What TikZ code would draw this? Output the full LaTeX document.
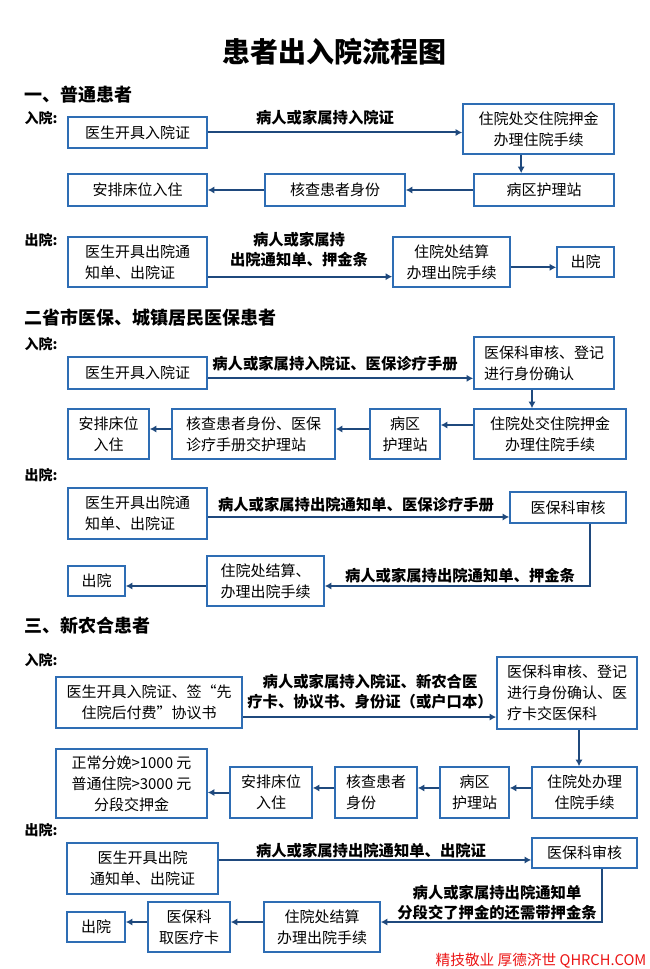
\documentclass[tikz,border=0pt]{standalone}
\usepackage{fontspec}
\setmainfont{Noto Sans CJK SC}
\usetikzlibrary{arrows.meta}
\definecolor{boxblue}{RGB}{46,109,180}
\definecolor{arrblue}{RGB}{31,73,125}
\definecolor{markred}{RGB}{235,20,20}
\tikzset{
  box/.style={draw=boxblue, line width=1.2pt, inner sep=0pt, align=center, font=\fontsize{11.25}{15.75}\selectfont},
  lbox/.style={box, align=left},
  sz/.style 2 args={minimum width=#1*0.75pt, minimum height=#2*0.75pt},
  arr/.style={->, draw=arrblue, line width=1.5pt},
  tag/.style={font=\bfseries\fontsize{11.5}{15}\selectfont, align=center},
  head/.style={anchor=west, font=\bfseries\fontsize{13.5}{16}\selectfont},
  side/.style={anchor=west, font=\bfseries\fontsize{10.5}{13}\selectfont},
}
\begin{document}
\begin{tikzpicture}[x=0.75pt, y=-0.75pt, >={Latex[length=5pt,width=5.5pt]}]
  \useasboundingbox (0,0) rectangle (649,969);
  \node[font=\bfseries\fontsize{21}{24}\selectfont] (title) at (334,52) {患者出入院流程图};

  % 一、普通患者
  \node[head] (h1) at (20,95) {一、普通患者};
  \node[side] (in1) at (20,118) {入院:};
  \node[box, sz={139}{31}] (a1) at (137.5,132.5) {医生开具入院证};
  \node[box, sz={151}{50}] (a2) at (538.5,129) {住院处交住院押金\\办理住院手续};
  \node[box, sz={140}{32}] (a3) at (544,190) {病区护理站};
  \node[box, sz={140}{32}] (a4) at (335,190) {核查患者身份};
  \node[box, sz={139}{32}] (a5) at (137.5,190) {安排床位入住};
  \node[tag] (ta) at (325,118) {病人或家属持入院证};
  \draw[arr] (a1.east) -- (a1.east -| a2.west);
  \draw[arr] ([xshift=-13pt]a2.south) -- ([xshift=-13pt]a2.south |- a3.north);
  \draw[arr] (a3.west) -- (a4.east);
  \draw[arr] (a4.west) -- (a5.east);

  \node[side] (out1) at (20,240) {出院:};
  \node[lbox, sz={139}{50}] (b1) at (137.5,262) {医生开具出院通\\知单、出院证};
  \node[box, sz={117}{50}] (b2) at (451.5,262) {住院处结算\\办理出院手续};
  \node[box, sz={57}{30}] (b3) at (585.5,262) {出院};
  \node[tag] (tb) at (299,250) {病人或家属持\\出院通知单、押金条};
  \draw[arr] ([yshift=-11pt]b1.east) -- ([yshift=-11pt]b1.east -| b2.west);
  \draw[arr] ([yshift=-4pt]b2.east) -- ([yshift=-4pt]b2.east -| b3.west);

  % 二、省市医保
  \node[head] (h2) at (20,318) {二省市医保、城镇居民医保患者};
  \node[side] (in2) at (20,344) {入院:};
  \node[box, sz={139}{32}] (c1) at (137.5,373) {医生开具入院证};
  \node[lbox, sz={140}{52}] (c2) at (544,363) {医保科审核、登记\\进行身份确认};
  \node[box, sz={152}{50}] (c3) at (550,434) {住院处交住院押金\\办理住院手续};
  \node[box, sz={70}{50}] (c4) at (405,434) {病区\\护理站};
  \node[lbox, sz={163}{50}] (c5) at (253.5,434) {核查患者身份、医保\\诊疗手册交护理站};
  \node[box, sz={81}{50}] (c6) at (108.5,434) {安排床位\\入住};
  \node[tag] (tc) at (335,364) {病人或家属持入院证、医保诊疗手册};
  \draw[arr] ([yshift=-4pt]c1.east) -- ([yshift=-4pt]c1.east -| c2.west);
  \draw[arr] ([xshift=-9pt]c2.south) -- ([xshift=-9pt]c2.south |- c3.north);
  \draw[arr] ([yshift=6.75pt]c3.west) -- ([yshift=6.75pt]c3.west -| c4.east);
  \draw[arr] ([yshift=3.75pt]c4.west) -- ([yshift=3.75pt]c4.west -| c5.east);
  \draw[arr] ([yshift=3.75pt]c5.west) -- ([yshift=3.75pt]c5.west -| c6.east);

  \node[side] (out2) at (20,475) {出院:};
  \node[lbox, sz={139}{51}] (d1) at (137.5,513.5) {医生开具出院通\\知单、出院证};
  \node[box, sz={116}{31}] (d2) at (568,507.5) {医保科审核};
  \node[box, sz={117}{50}] (d3) at (265.5,581) {住院处结算、\\办理出院手续};
  \node[box, sz={57}{30}] (d4) at (96.5,581) {出院};
  \node[tag] (td) at (356,505) {病人或家属持出院通知单、医保诊疗手册};
  \node[tag] (te) at (460,576) {病人或家属持出院通知单、押金条};
  \draw[arr] ([yshift=-2.6pt]d1.east) -- ([yshift=-2.6pt]d1.east -| d2.west);
  \draw[arr] ([xshift=16.5pt]d2.south) |- ([yshift=-3.75pt]d3.east);
  \draw[arr] ([yshift=-3.75pt]d3.west) -- ([yshift=-3.75pt]d3.west -| d4.east);

  % 三、新农合患者
  \node[head] (h3) at (20,626) {三、新农合患者};
  \node[side] (in3) at (20,660) {入院:};
  \node[box, sz={186}{51}] (e1) at (149,702.5) {医生开具入院证、签“先\\住院后付费”协议书};
  \node[lbox, sz={140}{72}] (e2) at (567,693) {医保科审核、登记\\进行身份确认、医\\疗卡交医保科};
  \node[box, sz={105}{51}] (e3) at (584.5,792.5) {住院处办理\\住院手续};
  \node[box, sz={69}{51}] (e4) at (474.5,792.5) {病区\\护理站};
  \node[lbox, sz={82}{51}] (e5) at (376,792.5) {核查患者\\身份};
  \node[box, sz={82}{51}] (e6) at (271,792.5) {安排床位\\入住};
  \node[box, sz={151}{69}] (e7) at (131.5,783.5) {正常分娩>1000 元\\普通住院>3000 元\\分段交押金};
  \node[tag] (tf) at (370,692) {病人或家属持入院证、新农合医\\疗卡、协议书、身份证（或户口本）};
  \draw[arr] ([yshift=-10.9pt]e1.east) -- ([yshift=-10.9pt]e1.east -| e2.west);
  \draw[arr] ([xshift=9pt]e2.south) -- ([xshift=9pt]e2.south |- e3.north);
  \draw[arr] ([yshift=3.4pt]e3.west) -- ([yshift=3.4pt]e3.west -| e4.east);
  \draw[arr] ([yshift=3.4pt]e4.west) -- ([yshift=3.4pt]e4.west -| e5.east);
  \draw[arr] ([yshift=3.4pt]e5.west) -- ([yshift=3.4pt]e5.west -| e6.east);
  \draw[arr] (e6.west) -- (e6.west -| e7.east);

  \node[side] (out3) at (20,830) {出院:};
  \node[box, sz={151}{51}] (f1) at (142.5,868.5) {医生开具出院\\通知单、出院证};
  \node[box, sz={105}{30}] (f2) at (584.5,853) {医保科审核};
  \node[box, sz={116}{50}] (f3) at (322,927) {住院处结算\\办理出院手续};
  \node[box, sz={82}{50}] (f4) at (189,927) {医保科\\取医疗卡};
  \node[box, sz={58}{30}] (f5) at (96,927) {出院};
  \node[tag] (tg) at (371,851) {病人或家属持出院通知单、出院证};
  \node[tag] (th) at (497,903) {病人或家属持出院通知单\\分段交了押金的还需带押金条};
  \draw[arr] ([yshift=6.4pt]f1.east) -- ([yshift=6.4pt]f1.east -| f2.west);
  \draw[arr] ([xshift=13.1pt]f2.south) |- ([yshift=3.75pt]f3.east);
  \draw[arr] ([yshift=3.75pt]f3.west) -- ([yshift=3.75pt]f3.west -| f4.east);
  \draw[arr] ([yshift=3.75pt]f4.west) -- ([yshift=3.75pt]f4.west -| f5.east);

  \node[anchor=west, text=markred, font=\fontsize{11}{13}\selectfont] (mark) at (431,961) {精技敬业 厚德济世 QHRCH.COM};
\end{tikzpicture}
\end{document}
